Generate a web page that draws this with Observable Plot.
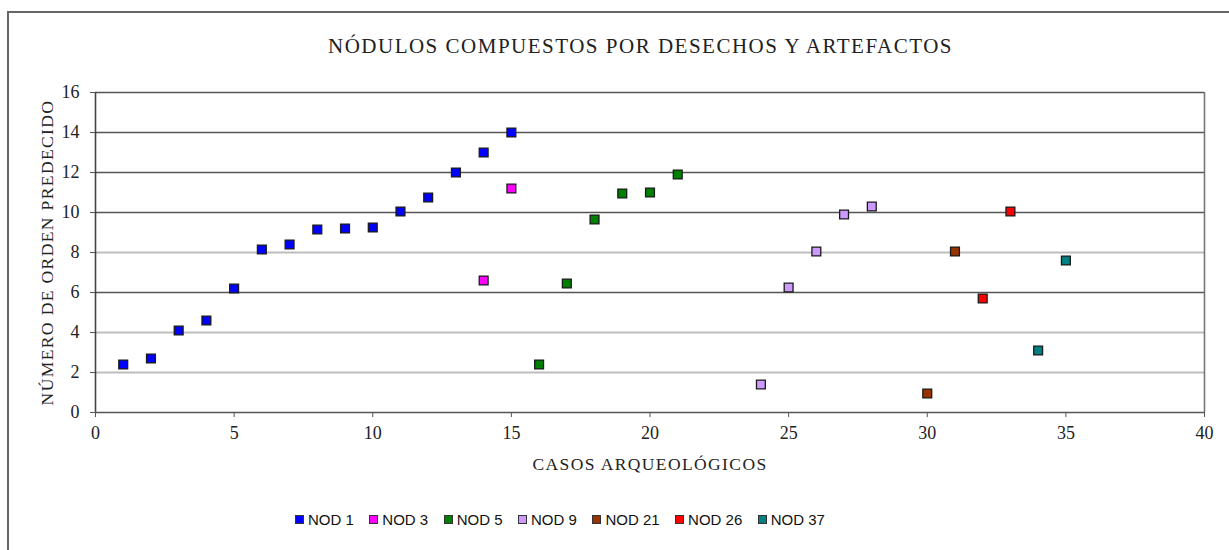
<!DOCTYPE html>
<html>
<head>
<meta charset="utf-8">
<script src="https://cdn.jsdelivr.net/npm/d3@7"></script>
<script src="https://cdn.jsdelivr.net/npm/@observablehq/plot@0.6"></script>
<style>
  html, body { margin: 0; padding: 0; background: #fff; }
  #page { position: relative; width: 1229px; height: 550px; overflow: hidden; }
  #frame { position: absolute; left: 7px; top: 11px; width: 1240px; height: 560px;
           border-top: 2px solid #666; border-left: 2px solid #666; }
  #title { position: absolute; top: 34px; left: 0; width: 1281px; text-align: center;
           font-family: "Liberation Serif", serif; font-size: 21px; letter-spacing: 1.5px;
           color: #222; white-space: nowrap; }
  #chart { position: absolute; top: 70px; left: 0; }
  #chart svg text { font-size: 18px; }
  #chart svg g[aria-label="x-axis label"] text,
  #chart svg g[aria-label="y-axis label"] text { font-size: 17.5px; letter-spacing: 1.4px; }
  #legend { position: absolute; top: 511px; left: 295px; display: flex; gap: 0;
            font-family: "Liberation Sans", Arial, sans-serif; font-size: 15px; color: #111; }
  .item { display: flex; align-items: center; margin-right: 15.5px; }
  .sw { width: 7px; height: 7px; border: 1px solid #333; margin-right: 4px; }
</style>
</head>
<body>
<div id="page">
  <div id="frame"></div>
  <div id="title"></div>
  <div id="chart"></div>
  <div id="legend"></div>
</div>
<script>
// ---- data ----
const chartTitle = "NÓDULOS COMPUESTOS POR DESECHOS Y ARTEFACTOS";
const xLabel = "CASOS ARQUEOLÓGICOS";
const yLabel = "NÚMERO DE ORDEN PREDECIDO";
const series = ["NOD 1", "NOD 3", "NOD 5", "NOD 9", "NOD 21", "NOD 26", "NOD 37"];
const seriesColors = ["#0000ff", "#ff00ff", "#008000", "#cc99ff", "#993300", "#ff0000", "#008080"];
const casos = [1, 2, 3, 4, 5, 6, 7, 8, 9, 10, 11, 12, 13, 14, 15,
               14, 15,
               16, 17, 18, 19, 20, 21,
               24, 25, 26, 27, 28,
               30, 31,
               32, 33,
               34, 35];
const orden = [2.4, 2.7, 4.1, 4.6, 6.2, 8.15, 8.4, 9.15, 9.2, 9.25, 10.05, 10.75, 12.0, 13.0, 14.0,
               6.6, 11.2,
               2.4, 6.45, 9.65, 10.95, 11.0, 11.9,
               1.4, 6.25, 8.05, 9.9, 10.3,
               0.95, 8.05,
               5.7, 10.05,
               3.1, 7.6];
const nodulo = ["NOD 1", "NOD 1", "NOD 1", "NOD 1", "NOD 1", "NOD 1", "NOD 1", "NOD 1", "NOD 1", "NOD 1", "NOD 1", "NOD 1", "NOD 1", "NOD 1", "NOD 1",
                "NOD 3", "NOD 3",
                "NOD 5", "NOD 5", "NOD 5", "NOD 5", "NOD 5", "NOD 5",
                "NOD 9", "NOD 9", "NOD 9", "NOD 9", "NOD 9",
                "NOD 21", "NOD 21",
                "NOD 26", "NOD 26",
                "NOD 37", "NOD 37"];
const xTicks = [0, 5, 10, 15, 20, 25, 30, 35, 40];
const yTicks = [0, 2, 4, 6, 8, 10, 12, 14, 16];
const darkGrid = [6, 10, 12, 14, 16];
const lightGrid = [2, 4, 8];

const data = casos.map((c, i) => ({caso: c, orden: orden[i], nodulo: nodulo[i]}));

document.getElementById("title").textContent = chartTitle;

const serif = "'Liberation Serif', serif";
const plot = Plot.plot({
  width: 1229,
  height: 410,
  marginTop: 22,
  marginBottom: 68,
  marginLeft: 95,
  marginRight: 25,
  style: {fontFamily: serif, fontSize: "18px", color: "#222", background: "transparent"},
  x: {domain: [0, 40]},
  y: {domain: [0, 16]},
  color: {domain: series, range: seriesColors},
  marks: [
    Plot.ruleY(lightGrid, {stroke: "#bdbdbd", strokeWidth: 2}),
    Plot.ruleY(darkGrid, {stroke: "#555", strokeWidth: 1.6}),
    Plot.ruleX([40], {stroke: "#777", strokeWidth: 1.6}),
    Plot.ruleX([0], {stroke: "#444", strokeWidth: 1.6}),
    Plot.ruleY([0], {stroke: "#555", strokeWidth: 1.6}),
    Plot.axisX({ticks: xTicks, tickSize: 5, tickPadding: 9, stroke: "#555",
                label: xLabel, labelAnchor: "center", labelArrow: "none", labelOffset: 57}),
    Plot.axisY({ticks: yTicks, tickSize: 5, tickPadding: 11, stroke: "#555",
                label: yLabel, labelAnchor: "center", labelArrow: "none", labelOffset: 55}),
    Plot.dot(data, {x: "caso", y: "orden", fill: "nodulo", stroke: "#1a1a1a",
                    strokeWidth: 1.3, symbol: "square", r: 5})
  ]
});
document.getElementById("chart").appendChild(plot);

const legend = document.getElementById("legend");
series.forEach((s, i) => {
  const item = document.createElement("div");
  item.className = "item";
  const sw = document.createElement("div");
  sw.className = "sw";
  sw.style.background = seriesColors[i];
  const t = document.createElement("span");
  t.textContent = s;
  item.appendChild(sw);
  item.appendChild(t);
  legend.appendChild(item);
});
</script>
</body>
</html>
